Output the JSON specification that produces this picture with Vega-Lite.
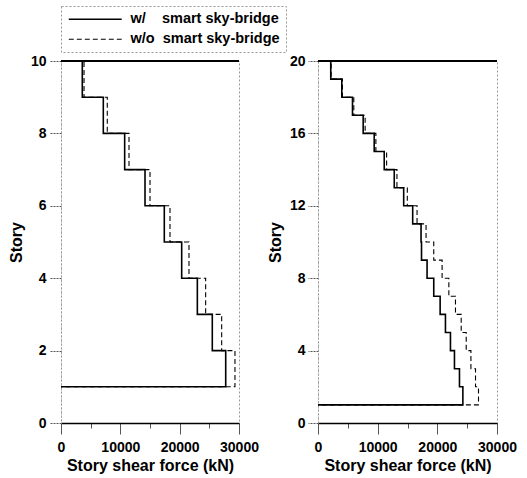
{
  "$schema": "https://vega.github.io/schema/vega-lite/v6.json",
  "background": "white",
  "padding": {"left": 7, "top": 5, "right": 5, "bottom": 5},
  "datasets": {
    "left": [
      {"series": "w/\u00a0\u00a0\u00a0\u00a0smart sky-bridge", "seq": 1, "story": 10, "shear": 0},
      {"series": "w/\u00a0\u00a0\u00a0\u00a0smart sky-bridge", "seq": 2, "story": 9, "shear": 3590},
      {"series": "w/\u00a0\u00a0\u00a0\u00a0smart sky-bridge", "seq": 3, "story": 8, "shear": 7130},
      {"series": "w/\u00a0\u00a0\u00a0\u00a0smart sky-bridge", "seq": 4, "story": 7, "shear": 10730},
      {"series": "w/\u00a0\u00a0\u00a0\u00a0smart sky-bridge", "seq": 5, "story": 6, "shear": 14160},
      {"series": "w/\u00a0\u00a0\u00a0\u00a0smart sky-bridge", "seq": 6, "story": 5, "shear": 17410},
      {"series": "w/\u00a0\u00a0\u00a0\u00a0smart sky-bridge", "seq": 7, "story": 4, "shear": 20340},
      {"series": "w/\u00a0\u00a0\u00a0\u00a0smart sky-bridge", "seq": 8, "story": 3, "shear": 22980},
      {"series": "w/\u00a0\u00a0\u00a0\u00a0smart sky-bridge", "seq": 9, "story": 2, "shear": 25500},
      {"series": "w/\u00a0\u00a0\u00a0\u00a0smart sky-bridge", "seq": 10, "story": 1, "shear": 27760},
      {"series": "w/\u00a0\u00a0\u00a0\u00a0smart sky-bridge", "seq": 11, "story": 1, "shear": 0},
      {"series": "w/o\u00a0\u00a0smart sky-bridge", "seq": 1, "story": 10, "shear": 0},
      {"series": "w/o\u00a0\u00a0smart sky-bridge", "seq": 2, "story": 9, "shear": 3880},
      {"series": "w/o\u00a0\u00a0smart sky-bridge", "seq": 3, "story": 8, "shear": 7800},
      {"series": "w/o\u00a0\u00a0smart sky-bridge", "seq": 4, "story": 7, "shear": 11460},
      {"series": "w/o\u00a0\u00a0smart sky-bridge", "seq": 5, "story": 6, "shear": 15000},
      {"series": "w/o\u00a0\u00a0smart sky-bridge", "seq": 6, "story": 5, "shear": 18370},
      {"series": "w/o\u00a0\u00a0smart sky-bridge", "seq": 7, "story": 4, "shear": 21570},
      {"series": "w/o\u00a0\u00a0smart sky-bridge", "seq": 8, "story": 3, "shear": 24380},
      {"series": "w/o\u00a0\u00a0smart sky-bridge", "seq": 9, "story": 2, "shear": 27080},
      {"series": "w/o\u00a0\u00a0smart sky-bridge", "seq": 10, "story": 1, "shear": 29320},
      {"series": "w/o\u00a0\u00a0smart sky-bridge", "seq": 11, "story": 1, "shear": 0}
    ],
    "right": [
      {"series": "w/\u00a0\u00a0\u00a0\u00a0smart sky-bridge", "seq": 1, "story": 20, "shear": 0},
      {"series": "w/\u00a0\u00a0\u00a0\u00a0smart sky-bridge", "seq": 2, "story": 19, "shear": 2136},
      {"series": "w/\u00a0\u00a0\u00a0\u00a0smart sky-bridge", "seq": 3, "story": 18, "shear": 3985},
      {"series": "w/\u00a0\u00a0\u00a0\u00a0smart sky-bridge", "seq": 4, "story": 17, "shear": 5780},
      {"series": "w/\u00a0\u00a0\u00a0\u00a0smart sky-bridge", "seq": 5, "story": 16, "shear": 7570},
      {"series": "w/\u00a0\u00a0\u00a0\u00a0smart sky-bridge", "seq": 6, "story": 15, "shear": 9420},
      {"series": "w/\u00a0\u00a0\u00a0\u00a0smart sky-bridge", "seq": 7, "story": 14, "shear": 11100},
      {"series": "w/\u00a0\u00a0\u00a0\u00a0smart sky-bridge", "seq": 8, "story": 13, "shear": 12780},
      {"series": "w/\u00a0\u00a0\u00a0\u00a0smart sky-bridge", "seq": 9, "story": 12, "shear": 14360},
      {"series": "w/\u00a0\u00a0\u00a0\u00a0smart sky-bridge", "seq": 10, "story": 11, "shear": 15870},
      {"series": "w/\u00a0\u00a0\u00a0\u00a0smart sky-bridge", "seq": 11, "story": 10, "shear": 17270},
      {"series": "w/\u00a0\u00a0\u00a0\u00a0smart sky-bridge", "seq": 12, "story": 9, "shear": 17350},
      {"series": "w/\u00a0\u00a0\u00a0\u00a0smart sky-bridge", "seq": 13, "story": 8, "shear": 18280},
      {"series": "w/\u00a0\u00a0\u00a0\u00a0smart sky-bridge", "seq": 14, "story": 7, "shear": 19400},
      {"series": "w/\u00a0\u00a0\u00a0\u00a0smart sky-bridge", "seq": 15, "story": 6, "shear": 20470},
      {"series": "w/\u00a0\u00a0\u00a0\u00a0smart sky-bridge", "seq": 16, "story": 5, "shear": 21360},
      {"series": "w/\u00a0\u00a0\u00a0\u00a0smart sky-bridge", "seq": 17, "story": 4, "shear": 22200},
      {"series": "w/\u00a0\u00a0\u00a0\u00a0smart sky-bridge", "seq": 18, "story": 3, "shear": 22870},
      {"series": "w/\u00a0\u00a0\u00a0\u00a0smart sky-bridge", "seq": 19, "story": 2, "shear": 23710},
      {"series": "w/\u00a0\u00a0\u00a0\u00a0smart sky-bridge", "seq": 20, "story": 1, "shear": 24280},
      {"series": "w/\u00a0\u00a0\u00a0\u00a0smart sky-bridge", "seq": 21, "story": 1, "shear": 0},
      {"series": "w/o\u00a0\u00a0smart sky-bridge", "seq": 1, "story": 20, "shear": 0},
      {"series": "w/o\u00a0\u00a0smart sky-bridge", "seq": 2, "story": 19, "shear": 2200},
      {"series": "w/o\u00a0\u00a0smart sky-bridge", "seq": 3, "story": 18, "shear": 4100},
      {"series": "w/o\u00a0\u00a0smart sky-bridge", "seq": 4, "story": 17, "shear": 6000},
      {"series": "w/o\u00a0\u00a0smart sky-bridge", "seq": 5, "story": 16, "shear": 7900},
      {"series": "w/o\u00a0\u00a0smart sky-bridge", "seq": 6, "story": 15, "shear": 9700},
      {"series": "w/o\u00a0\u00a0smart sky-bridge", "seq": 7, "story": 14, "shear": 11500},
      {"series": "w/o\u00a0\u00a0smart sky-bridge", "seq": 8, "story": 13, "shear": 13230},
      {"series": "w/o\u00a0\u00a0smart sky-bridge", "seq": 9, "story": 12, "shear": 14970},
      {"series": "w/o\u00a0\u00a0smart sky-bridge", "seq": 10, "story": 11, "shear": 16600},
      {"series": "w/o\u00a0\u00a0smart sky-bridge", "seq": 11, "story": 10, "shear": 18110},
      {"series": "w/o\u00a0\u00a0smart sky-bridge", "seq": 12, "story": 9, "shear": 19400},
      {"series": "w/o\u00a0\u00a0smart sky-bridge", "seq": 13, "story": 8, "shear": 20800},
      {"series": "w/o\u00a0\u00a0smart sky-bridge", "seq": 14, "story": 7, "shear": 21930},
      {"series": "w/o\u00a0\u00a0smart sky-bridge", "seq": 15, "story": 6, "shear": 23040},
      {"series": "w/o\u00a0\u00a0smart sky-bridge", "seq": 16, "story": 5, "shear": 24000},
      {"series": "w/o\u00a0\u00a0smart sky-bridge", "seq": 17, "story": 4, "shear": 24840},
      {"series": "w/o\u00a0\u00a0smart sky-bridge", "seq": 18, "story": 3, "shear": 25630},
      {"series": "w/o\u00a0\u00a0smart sky-bridge", "seq": 19, "story": 2, "shear": 26400},
      {"series": "w/o\u00a0\u00a0smart sky-bridge", "seq": 20, "story": 1, "shear": 26900},
      {"series": "w/o\u00a0\u00a0smart sky-bridge", "seq": 21, "story": 1, "shear": 0}
    ]
  },
  "spacing": 7,
  "hconcat": [
    {
      "width": 178,
      "height": 362,
      "data": {"name": "left"},
      "layer": [
        {
          "mark": {"type": "line", "interpolate": "step-after", "color": "black"},
          "encoding": {
            "x": {"field": "shear", "type": "quantitative", "title": "Story shear force (kN)",
              "scale": {"domain": [0, 30000], "nice": false},
              "axis": {"values": [0, 5000, 10000, 15000, 20000, 25000, 30000], "format": "d",
                "labelExpr": "datum.value % 10000 === 0 ? datum.label : ''",
                "tickSize": {"condition": {"test": "datum.value % 10000 === 0", "value": 11}, "value": 5}}},
            "y": {"field": "story", "type": "quantitative", "title": "Story",
              "scale": {"domain": [0, 10], "nice": false},
              "axis": {"values": [0, 1, 2, 3, 4, 5, 6, 7, 8, 9, 10],
                "labelExpr": "datum.value % 2 === 0 ? datum.label : ''",
                "tickSize": {"condition": {"test": "datum.value % 2 === 0", "value": 12}, "value": 4}}},
            "order": {"field": "seq", "type": "quantitative"},
            "strokeDash": {"field": "series", "type": "nominal", "title": null,
              "scale": {"domain": ["w/\u00a0\u00a0\u00a0\u00a0smart sky-bridge", "w/o\u00a0\u00a0smart sky-bridge"], "range": [[1, 0], [5, 3]]}},
            "strokeWidth": {"field": "series", "type": "nominal", "title": null,
              "scale": {"domain": ["w/\u00a0\u00a0\u00a0\u00a0smart sky-bridge", "w/o\u00a0\u00a0smart sky-bridge"], "range": [1.6, 1.1]}}
          }
        },
        {
          "mark": {"type": "rule", "color": "black", "strokeWidth": 2},
          "encoding": {"y": {"datum": 10}}
        }
      ]
    },
    {
      "width": 179,
      "height": 362,
      "data": {"name": "right"},
      "layer": [
        {
          "mark": {"type": "line", "interpolate": "step-after", "color": "black"},
          "encoding": {
            "x": {"field": "shear", "type": "quantitative", "title": "Story shear force (kN)",
              "scale": {"domain": [0, 30000], "nice": false},
              "axis": {"values": [0, 5000, 10000, 15000, 20000, 25000, 30000], "format": "d",
                "labelExpr": "datum.value % 10000 === 0 ? datum.label : ''",
                "tickSize": {"condition": {"test": "datum.value % 10000 === 0", "value": 11}, "value": 5}}},
            "y": {"field": "story", "type": "quantitative", "title": "Story",
              "scale": {"domain": [0, 20], "nice": false},
              "axis": {"values": [0, 2, 4, 6, 8, 10, 12, 14, 16, 18, 20],
                "labelExpr": "datum.value % 4 === 0 ? datum.label : ''",
                "tickSize": {"condition": {"test": "datum.value % 4 === 0", "value": 10}, "value": 4}}},
            "order": {"field": "seq", "type": "quantitative"},
            "strokeDash": {"field": "series", "type": "nominal", "title": null,
              "scale": {"domain": ["w/\u00a0\u00a0\u00a0\u00a0smart sky-bridge", "w/o\u00a0\u00a0smart sky-bridge"], "range": [[1, 0], [5, 3]]}},
            "strokeWidth": {"field": "series", "type": "nominal", "title": null,
              "scale": {"domain": ["w/\u00a0\u00a0\u00a0\u00a0smart sky-bridge", "w/o\u00a0\u00a0smart sky-bridge"], "range": [1.6, 1.1]}}
          }
        },
        {
          "mark": {"type": "rule", "color": "black", "strokeWidth": 2},
          "encoding": {"y": {"datum": 20}}
        }
      ]
    }
  ],
  "config": {
    "view": {"stroke": "#999999", "strokeDash": [2, 2], "strokeWidth": 1},
    "font": "Liberation Sans",
    "axis": {
      "grid": false,
      "labelFont": "Liberation Sans", "labelFontWeight": "bold", "labelFontSize": 14, "labelColor": "black",
      "titleFont": "Liberation Sans", "titleFontWeight": "bold", "titleFontSize": 16, "titleColor": "black",
      "tickColor": "#555555", "labelPadding": 3, "labelFlush": false
    },
    "axisX": {"domainColor": "black", "domainWidth": 1.5, "titlePadding": 3, "labelPadding": 6},
    "axisY": {"domainColor": "#999999", "domainDash": [1, 2], "titlePadding": 6, "tickDash": [2, 1]},
    "legend": {
      "orient": "none", "legendX": 0, "legendY": -55,
      "symbolType": "M-5,0H5", "symbolSize": 112, "symbolStrokeColor": "black", "symbolOffset": 21,
      "labelFont": "Liberation Sans", "labelFontWeight": "bold", "labelFontSize": 14.5, "labelColor": "black",
      "labelOffset": 28, "rowPadding": 5, "padding": 6,
      "strokeColor": "#999999", "strokeDash": [2, 2], "labelLimit": 300
    }
  }
}
